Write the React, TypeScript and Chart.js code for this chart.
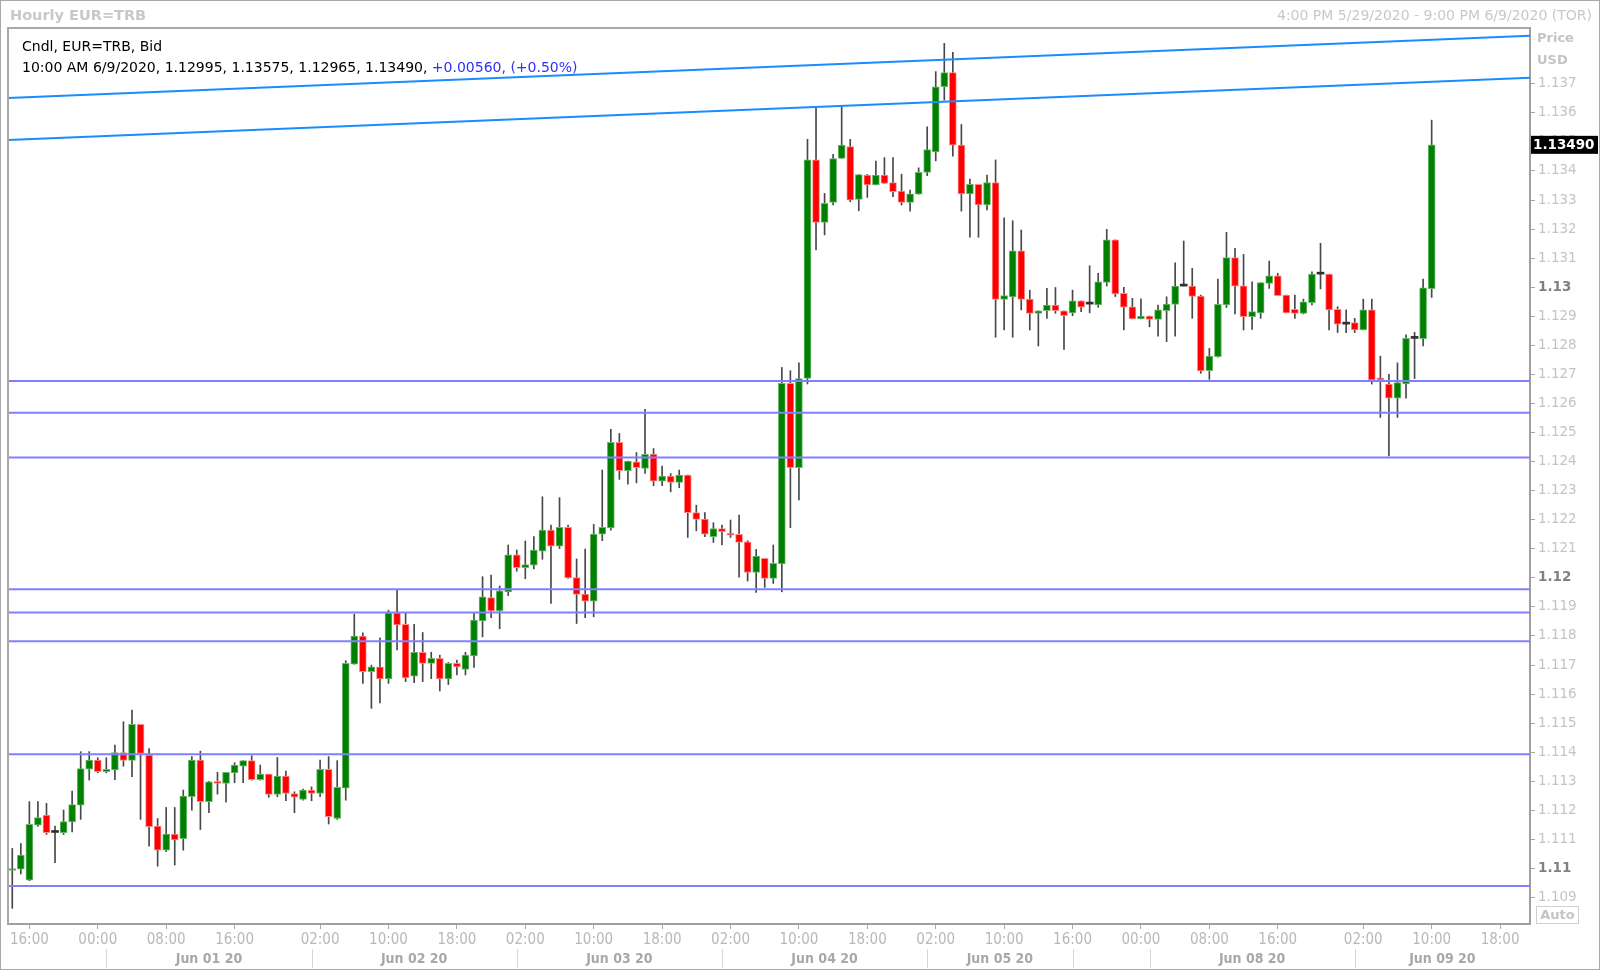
import React, { useEffect, useRef } from 'react';
import { Chart, registerables } from 'chart.js';

Chart.register(...registerables);

// Hourly EUR=TRB candles, index 0 = 4:00 PM 5/29/2020, one slot per hour bar
const opens = [
  1.10993, 1.10998, 1.10960, 1.11149, 1.11184, 1.11124, 1.11123, 1.11160, 1.11218, 1.11342,
  1.11373, 1.11333, 1.11339, 1.11399, 1.11372, 1.11496, 1.11390, 1.11146, 1.11063, 1.11118,
  1.11103, 1.11247, 1.11373, 1.11230, 1.11298, 1.11293, 1.11329, 1.11352, 1.11371, 1.11306,
  1.11325, 1.11255, 1.11318, 1.11258, 1.11238, 1.11270, 1.11258, 1.11341, 1.11172, 1.11276,
  1.11703, 1.11800, 1.11677, 1.11694, 1.11652, 1.11880, 1.11840, 1.11662, 1.11744, 1.11706,
  1.11723, 1.11652, 1.11706, 1.11685, 1.11731, 1.11852, 1.11932, 1.11886, 1.11952, 1.12079,
  1.12035, 1.12044, 1.12092, 1.12164, 1.12109, 1.12174, 1.12001, 1.11944, 1.11920, 1.12150,
  1.12172, 1.12466, 1.12369, 1.12399, 1.12377, 1.12426, 1.12333, 1.12350, 1.12328, 1.12354,
  1.12225, 1.12202, 1.12142, 1.12170, 1.12153, 1.12150, 1.12124, 1.12019, 1.12067, 1.11998,
  1.12048, 1.12669, 1.12379, 1.12686, 1.13438, 1.13223, 1.13292, 1.13443, 1.13484, 1.13302,
  1.13386, 1.13352, 1.13386, 1.13360, 1.13331, 1.13292, 1.13320, 1.13395, 1.13466, 1.13690,
  1.13739, 1.13489, 1.13321, 1.13354, 1.13283, 1.13360, 1.12958, 1.12967, 1.13125, 1.12959,
  1.12910, 1.12919, 1.12939, 1.12919, 1.12912, 1.12953, 1.12942, 1.12939, 1.13017, 1.13163,
  1.12979, 1.12933, 1.12891, 1.12901, 1.12889, 1.12919, 1.12941, 1.13004, 1.13004, 1.12970,
  1.12713, 1.12761, 1.12939, 1.13102, 1.13005, 1.12899, 1.12912, 1.13013, 1.13039, 1.12973,
  1.12924, 1.12910, 1.12947, 1.13045, 1.13045, 1.12924, 1.12873, 1.12878, 1.12853, 1.12922,
  1.12684, 1.12667, 1.12618, 1.12667, 1.12824, 1.12823, 1.12995,
];
const highs = [
  1.11069, 1.11086, 1.11230, 1.11230, 1.11224, 1.11146, 1.11201, 1.11266, 1.11402, 1.11402,
  1.11381, 1.11381, 1.11425, 1.11505, 1.11545, 1.11496, 1.11413, 1.11172, 1.11210, 1.11210,
  1.11270, 1.11385, 1.11404, 1.11300, 1.11331, 1.11331, 1.11364, 1.11371, 1.11388, 1.11356,
  1.11325, 1.11382, 1.11335, 1.11264, 1.11273, 1.11281, 1.11373, 1.11385, 1.11371, 1.11715,
  1.11875, 1.11811, 1.11700, 1.11794, 1.11889, 1.11958, 1.11880, 1.11840, 1.11812, 1.11744,
  1.11734, 1.11709, 1.11717, 1.11744, 1.11878, 1.12004, 1.12010, 1.11972, 1.12113, 1.12096,
  1.12127, 1.12142, 1.12279, 1.12182, 1.12276, 1.12182, 1.12065, 1.12099, 1.12184, 1.12371,
  1.12511, 1.12497, 1.12402, 1.12431, 1.12580, 1.12445, 1.12385, 1.12359, 1.12371, 1.12354,
  1.12250, 1.12225, 1.12190, 1.12182, 1.12199, 1.12216, 1.12128, 1.12098, 1.12067, 1.12113,
  1.12724, 1.12713, 1.12740, 1.13509, 1.13616, 1.13323, 1.13457, 1.13621, 1.13509, 1.13388,
  1.13388, 1.13434, 1.13446, 1.13446, 1.13389, 1.13334, 1.13411, 1.13552, 1.13742, 1.13839,
  1.13808, 1.13560, 1.13372, 1.13354, 1.13386, 1.13438, 1.13239, 1.13229, 1.13197, 1.12990,
  1.12919, 1.12996, 1.12999, 1.12919, 1.12990, 1.12953, 1.13074, 1.13048, 1.13199, 1.13163,
  1.13000, 1.12962, 1.12960, 1.12901, 1.12939, 1.12967, 1.13084, 1.13159, 1.13065, 1.12973,
  1.12790, 1.13028, 1.13189, 1.13134, 1.13113, 1.13019, 1.13016, 1.13090, 1.13048, 1.12973,
  1.12973, 1.12959, 1.13053, 1.13151, 1.13045, 1.12933, 1.12922, 1.12893, 1.12959, 1.12959,
  1.12763, 1.12700, 1.12740, 1.12836, 1.12845, 1.13028, 1.13575,
];
const lows = [
  1.10863, 1.10981, 1.10958, 1.11145, 1.11117, 1.11020, 1.11117, 1.11126, 1.11169, 1.11304,
  1.11329, 1.11329, 1.11306, 1.11352, 1.11316, 1.11169, 1.11077, 1.11008, 1.11058, 1.11012,
  1.11063, 1.11201, 1.11134, 1.11192, 1.11256, 1.11228, 1.11295, 1.11295, 1.11304, 1.11304,
  1.11245, 1.11247, 1.11233, 1.11192, 1.11235, 1.11233, 1.11247, 1.11153, 1.11169, 1.11235,
  1.11703, 1.11637, 1.11551, 1.11570, 1.11637, 1.11752, 1.11643, 1.11639, 1.11643, 1.11653,
  1.11611, 1.11633, 1.11666, 1.11666, 1.11692, 1.11797, 1.11863, 1.11825, 1.11939, 1.12023,
  1.11997, 1.12031, 1.12064, 1.11912, 1.12101, 1.11998, 1.11843, 1.11863, 1.11866, 1.12128,
  1.12164, 1.12339, 1.12322, 1.12327, 1.12359, 1.12317, 1.12317, 1.12296, 1.12310, 1.12139,
  1.12162, 1.12142, 1.12122, 1.12113, 1.12139, 1.12002, 1.11989, 1.11950, 1.11967, 1.11981,
  1.11952, 1.12173, 1.12268, 1.12667, 1.13128, 1.13180, 1.13283, 1.13443, 1.13294, 1.13263,
  1.13309, 1.13352, 1.13357, 1.13312, 1.13283, 1.13262, 1.13320, 1.13384, 1.13435, 1.13644,
  1.13451, 1.13262, 1.13172, 1.13172, 1.13266, 1.12828, 1.12853, 1.12828, 1.12922, 1.12853,
  1.12798, 1.12893, 1.12910, 1.12786, 1.12902, 1.12916, 1.12912, 1.12931, 1.13004, 1.12968,
  1.12853, 1.12891, 1.12891, 1.12864, 1.12832, 1.12813, 1.12832, 1.13004, 1.12893, 1.12704,
  1.12683, 1.12759, 1.12930, 1.12908, 1.12853, 1.12855, 1.12893, 1.12996, 1.12971, 1.12912,
  1.12893, 1.12908, 1.12939, 1.12994, 1.12853, 1.12844, 1.12844, 1.12844, 1.12853, 1.12667,
  1.12552, 1.12420, 1.12552, 1.12618, 1.12686, 1.12798, 1.12965,
];
const closes = [
  1.11000, 1.11046, 1.11152, 1.11175, 1.11123, 1.11124, 1.11161, 1.11220, 1.11344, 1.11373,
  1.11333, 1.11341, 1.11399, 1.11372, 1.11496, 1.11396, 1.11144, 1.11063, 1.11118, 1.11098,
  1.11249, 1.11373, 1.11230, 1.11298, 1.11293, 1.11331, 1.11356, 1.11371, 1.11306, 1.11325,
  1.11255, 1.11318, 1.11258, 1.11245, 1.11270, 1.11258, 1.11341, 1.11178, 1.11279, 1.11706,
  1.11800, 1.11677, 1.11694, 1.11652, 1.11880, 1.11838, 1.11656, 1.11744, 1.11706, 1.11723,
  1.11652, 1.11706, 1.11694, 1.11734, 1.11855, 1.11935, 1.11886, 1.11955, 1.12079, 1.12035,
  1.12046, 1.12096, 1.12164, 1.12109, 1.12174, 1.12000, 1.11943, 1.11920, 1.12151, 1.12174,
  1.12466, 1.12369, 1.12402, 1.12379, 1.12425, 1.12333, 1.12350, 1.12328, 1.12354, 1.12224,
  1.12201, 1.12150, 1.12170, 1.12159, 1.12147, 1.12122, 1.12019, 1.12075, 1.11998, 1.12050,
  1.12669, 1.12379, 1.12686, 1.13438, 1.13223, 1.13289, 1.13443, 1.13489, 1.13300, 1.13388,
  1.13352, 1.13386, 1.13357, 1.13329, 1.13292, 1.13321, 1.13395, 1.13474, 1.13690, 1.13739,
  1.13489, 1.13321, 1.13354, 1.13283, 1.13360, 1.12958, 1.12971, 1.13125, 1.12958, 1.12910,
  1.12919, 1.12939, 1.12919, 1.12902, 1.12953, 1.12931, 1.12942, 1.13019, 1.13163, 1.12977,
  1.12931, 1.12891, 1.12901, 1.12889, 1.12922, 1.12942, 1.13004, 1.13004, 1.12968, 1.12712,
  1.12763, 1.12941, 1.13102, 1.13004, 1.12899, 1.12916, 1.13016, 1.13039, 1.12971, 1.12912,
  1.12910, 1.12950, 1.13045, 1.13045, 1.12922, 1.12873, 1.12873, 1.12853, 1.12922, 1.12681,
  1.12681, 1.12618, 1.12672, 1.12824, 1.12824, 1.12998, 1.13490,
];

// Horizontal support / resistance levels
const levelPrices = [1.12677, 1.12568, 1.12414, 1.11961, 1.11881, 1.11782, 1.11393, 1.10940];
// Rising trend lines: [price at left edge, price at right edge]
const trendUpper = [1.13651, 1.13865];
const trendLower = [1.13507, 1.13721];

// Time axis
const xTickIndex = [2, 10, 18, 26, 36, 44, 52, 60, 68, 76, 84, 92, 100, 108, 116, 124, 132, 140, 148, 158, 166, 174];
const xTickText = ['16:00', '00:00', '08:00', '16:00', '02:00', '10:00', '18:00', '02:00', '10:00', '18:00', '02:00',
  '10:00', '18:00', '02:00', '10:00', '16:00', '00:00', '08:00', '16:00', '02:00', '10:00', '18:00'];
const dayStartIndex = [11, 35, 59, 83, 107, 124, 133, 157];
const dayText = ['Jun 01 20', 'Jun 02 20', 'Jun 03 20', 'Jun 04 20', 'Jun 05 20', '', 'Jun 08 20', 'Jun 09 20'];
const X_MIN = -0.5;
const X_MAX = 177.5;

// Price axis
const yTickText = ['1.109', '1.11', '1.111', '1.112', '1.113', '1.114', '1.115', '1.116', '1.117', '1.118', '1.119',
  '1.12', '1.121', '1.122', '1.123', '1.124', '1.125', '1.126', '1.127', '1.128', '1.129', '1.13', '1.131', '1.132',
  '1.133', '1.134', '1.135', '1.136', '1.137'];
const Y_MIN = 1.10809;
const Y_MAX = 1.13892;

const titleText = 'Hourly EUR=TRB';
const rangeText = '4:00 PM 5/29/2020 - 9:00 PM 6/9/2020 (TOR)';
const legendLine1 = 'Cndl, EUR=TRB, Bid';
const legendLine2 = '10:00 AM 6/9/2020, 1.12995, 1.13575, 1.12965, 1.13490, ';
const legendChange = '+0.00560, (+0.50%)';

const FONT = "'DejaVu Sans', Verdana, sans-serif";

const yLabelFor = (v: number) => yTickText.find((s) => Math.abs(parseFloat(s) - v) < 1e-7) || '';

export default function App() {
  const canvasRef = useRef<HTMLCanvasElement | null>(null);

  useEffect(() => {
    document.body.style.margin = '0';
    const canvas = canvasRef.current;
    if (!canvas) return;

    const isDoji = (i: number) => opens[i] === closes[i];
    const up = (i: number) => closes[i] > opens[i];
    const bodyFill = opens.map((_, i) => (isDoji(i) ? '#303030' : up(i) ? '#008000' : '#ff0000'));
    const bodyEdge = opens.map((_, i) => (isDoji(i) ? '#303030' : up(i) ? '#6fb86f' : '#ff8a8a'));
    const bodyBorder = opens.map((_, i) => (isDoji(i) ? 0 : 1));

    const lineSets: any[] = levelPrices.map((p) => ({
      type: 'line',
      data: [{ x: X_MIN, y: p }, { x: X_MAX, y: p }],
      borderColor: '#8080ff',
      borderWidth: 2,
      pointRadius: 0,
      order: 0,
    }));
    [trendUpper, trendLower].forEach((t) => {
      lineSets.push({
        type: 'line',
        data: [{ x: X_MIN, y: t[0] }, { x: X_MAX, y: t[1] }],
        borderColor: '#1a8cff',
        borderWidth: 2,
        pointRadius: 0,
        order: 0,
      });
    });

    const decor = {
      id: 'decor',
      afterDraw(chart: any) {
        const { ctx, chartArea: a, scales } = chart;
        const x = scales.x;
        const y = scales.y;
        ctx.save();
        ctx.strokeStyle = '#a8a8a8';
        ctx.lineWidth = 2;
        ctx.beginPath();
        ctx.moveTo(a.left, a.bottom);
        ctx.lineTo(a.left, a.top);
        ctx.lineTo(a.right, a.top);
        ctx.stroke();
        ctx.lineWidth = 1;
        ctx.strokeStyle = '#d6d6d6';
        ctx.fillStyle = '#a8a8a8';
        ctx.font = `bold 14px 'DejaVu Sans Condensed', ${FONT}`;
        ctx.textAlign = 'center';
        ctx.textBaseline = 'middle';
        dayStartIndex.forEach((d, k) => {
          const px = Math.round(x.getPixelForValue(d)) + 0.5;
          ctx.beginPath();
          ctx.moveTo(px, 949);
          ctx.lineTo(px, 968);
          ctx.stroke();
          const next = k + 1 < dayStartIndex.length ? dayStartIndex[k + 1] : X_MAX;
          if (dayText[k]) ctx.fillText(dayText[k], x.getPixelForValue((d + next) / 2), 959);
        });
        const lp = closes[closes.length - 1];
        const py = y.getPixelForValue(lp);
        ctx.fillStyle = '#000';
        ctx.fillRect(a.right + 1, py - 9, 1598 - a.right - 1, 18);
        ctx.fillStyle = '#fff';
        ctx.font = `bold 13.5px ${FONT}`;
        ctx.textAlign = 'left';
        ctx.fillText(lp.toFixed(5), a.right + 3, py + 1);
        ctx.restore();
      },
    };

    const chart = new Chart(canvas, {
      type: 'bar',
      data: {
        datasets: [
          ...lineSets,
          {
            type: 'bar',
            data: opens.map((o, i) => ({ x: i, y: [o, closes[i]] })),
            backgroundColor: bodyFill,
            borderColor: bodyEdge,
            borderWidth: bodyBorder,
            borderSkipped: false,
            barThickness: 7,
            minBarLength: 2,
            grouped: false,
            order: 1,
          },
          {
            type: 'bar',
            data: lows.map((l, i) => ({ x: i, y: [l, highs[i]] })),
            backgroundColor: '#484848',
            borderWidth: 0,
            barThickness: 1,
            grouped: false,
            order: 2,
          },
        ] as any,
      },
      options: {
        responsive: false,
        animation: false,
        devicePixelRatio: 1,
        layout: { padding: { left: 8, top: 28, right: 0, bottom: 0 } },
        plugins: { legend: { display: false }, tooltip: { enabled: false } },
        scales: {
          x: {
            type: 'linear',
            min: X_MIN,
            max: X_MAX,
            offset: false,
            afterBuildTicks: (s: any) => {
              s.ticks = xTickIndex.map((v) => ({ value: v }));
            },
            afterFit: (s: any) => {
              s.height = 48;
            },
            grid: { drawOnChartArea: false, drawTicks: true, tickLength: 5, color: '#a8a8a8', offset: false },
            border: { display: true, color: '#a0a0a0', width: 2 },
            ticks: {
              autoSkip: false,
              maxRotation: 0,
              minRotation: 0,
              padding: 2,
              color: '#b8b8b8',
              font: { family: `'DejaVu Sans Condensed', ${FONT}`, size: 15 },
              callback: (v: any) => {
                const k = xTickIndex.indexOf(Number(v));
                return k >= 0 ? xTickText[k] : '';
              },
            },
          },
          y: {
            type: 'linear',
            position: 'right',
            min: Y_MIN,
            max: Y_MAX,
            afterBuildTicks: (s: any) => {
              s.ticks = yTickText.map((t) => ({ value: parseFloat(t) }));
            },
            afterFit: (s: any) => {
              s.width = 70;
            },
            grid: { drawOnChartArea: false, drawTicks: true, tickLength: 5, color: '#a8a8a8' },
            border: { display: true, color: '#a0a0a0', width: 2 },
            ticks: {
              autoSkip: false,
              padding: 3,
              color: (c: any) => {
                const t = c && c.tick ? yLabelFor(c.tick.value) : '';
                return t.length === 4 ? '#808080' : '#c4c4c4';
              },
              font: (c: any) => {
                const t = c && c.tick ? yLabelFor(c.tick.value) : '';
                return { family: FONT, size: 13.5, weight: t.length === 4 ? 'bold' : 'normal' } as any;
              },
              callback: (v: any) => yLabelFor(Number(v)),
            },
          },
        },
      } as any,
      plugins: [decor],
    });
    return () => chart.destroy();
  }, []);

  const abs = (o: React.CSSProperties): React.CSSProperties => ({ position: 'absolute', whiteSpace: 'nowrap', ...o });

  return (
    <div style={{ position: 'fixed', left: 0, top: 0, width: 1600, height: 972, background: '#fff', fontFamily: FONT, overflow: 'hidden' }}>
      <canvas ref={canvasRef} width={1600} height={972} style={{ position: 'absolute', left: 0, top: 0, width: 1600, height: 972 }} />
      <div style={abs({ left: 0, top: 0, width: 1600, height: 970, border: '1px solid #a8a8a8', boxSizing: 'border-box', pointerEvents: 'none' })} />
      <div style={abs({ left: 10, top: 6, fontSize: 14.5, fontWeight: 'bold', lineHeight: '18px', color: '#c8c8c8' })}>{titleText}</div>
      <div style={abs({ right: 8, top: 6, fontSize: 14, lineHeight: '18px', color: '#c8c8c8' })}>{rangeText}</div>
      <div style={abs({ left: 22, top: 37, fontSize: 14, lineHeight: '18px', color: '#000' })}>{legendLine1}</div>
      <div style={abs({ left: 22, top: 58, fontSize: 14, lineHeight: '18px', color: '#000' })}>
        {legendLine2}
        <span style={{ color: '#2f2fff' }}>{legendChange}</span>
      </div>
      <div style={abs({ left: 1537, top: 29, fontSize: 13, fontWeight: 'bold', lineHeight: '18px', color: '#c4c4c4' })}>Price</div>
      <div style={abs({ left: 1537, top: 51, fontSize: 13, fontWeight: 'bold', lineHeight: '18px', color: '#c4c4c4' })}>USD</div>
      <div style={abs({ left: 1536, top: 906, width: 43, height: 18, border: '1px solid #d0d0d0', boxSizing: 'border-box', fontSize: 13, fontWeight: 'bold', lineHeight: '16px', color: '#c4c4c4', textAlign: 'center' })}>Auto</div>
    </div>
  );
}
